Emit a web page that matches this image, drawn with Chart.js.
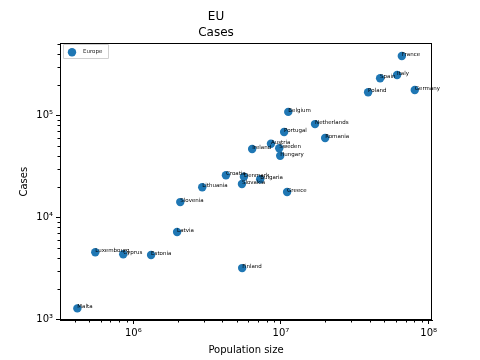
<!DOCTYPE html>
<html><head><meta charset="utf-8">
<script src="https://cdn.jsdelivr.net/npm/chart.js@4"></script>
<style>html,body{margin:0;padding:0;background:#fff}</style>
</head><body>
<canvas id="c" width="480" height="360"></canvas>
<script>
const titleLines = ['EU', 'Cases'];
const seriesName = 'Europe';
const xLabel = 'Population size';
const yLabel = 'Cases';
const countries = ['France','Italy','Spain','Germany','Poland','Belgium','Netherlands','Portugal','Romania','Austria','Ireland','Sweden','Hungary','Croatia','Denmark','Bulgaria','Slovakia','Greece','Lithuania','Slovenia','Latvia','Luxembourg','Cyprus','Estonia','Finland','Malta'];
const population = [6.58e7,6.11e7,4.69e7,8.05e7,3.89e7,1.12e7,1.70e7,1.05e7,1.99e7,8.55e6,6.38e6,9.73e6,9.88e6,4.24e6,5.61e6,7.23e6,5.44e6,1.10e7,2.93e6,2.08e6,1.98e6,5.53e5,8.55e5,1.32e6,5.46e6,4.18e5];
const cases = [3.81e5,2.48e5,2.31e5,1.77e5,1.68e5,1.08e5,8.2e4,6.86e4,5.99e4,5.27e4,4.68e4,4.75e4,4.02e4,2.58e4,2.5e4,2.36e4,2.12e4,1.77e4,1.97e4,1.41e4,7.18e3,4.54e3,4.34e3,4.27e3,3.18e3,1.28e3];
const xRange = [3.19e5, 1.053e8];
const yRange = [985, 5.08e5];

const FONT = 'DejaVu Sans';
const COLOR = '#1f77b4';
const SUP = {'0':'⁰','1':'¹','2':'²','3':'³','4':'⁴','5':'⁵','6':'⁶','7':'⁷','8':'⁸','9':'⁹','-':'⁻'};
function isPow10(v){ if(!(v>0)) return false; const l=Math.log10(v); return Math.abs(l-Math.round(l))<1e-9; }
function powLabel(v){ if(!isPow10(v)) return ''; const e=String(Math.round(Math.log10(v))); return '10'+e.split('').map(c=>SUP[c]).join(''); }

const pts = population.map((p,i)=>({x:p, y:cases[i]}));

const annotate = {
  id:'annotate',
  afterDatasetsDraw(chart){
    const ctx=chart.ctx; const meta=chart.getDatasetMeta(0);
    ctx.save(); ctx.font='5.5px "'+FONT+'"'; ctx.fillStyle='#000'; ctx.textAlign='left'; ctx.textBaseline='alphabetic';
    meta.data.forEach((el,i)=>{ ctx.fillText(countries[i], el.x, el.y); });
    ctx.restore();
  }
};
const frameAndTicks = {
  id:'frameAndTicks',
  afterDraw(chart){
    const ctx=chart.ctx, a=chart.chartArea;
    ctx.save();
    ctx.strokeStyle='#000'; ctx.lineWidth=1;
    ctx.strokeRect(Math.round(a.left)+0.5, Math.round(a.top)+0.5, Math.round(a.right-a.left)-1, Math.round(a.bottom-a.top)-1);
    // minor ticks
    ['x','y'].forEach(id=>{
      const s=chart.scales[id];
      const e0=Math.floor(Math.log10(s.min)), e1=Math.ceil(Math.log10(s.max));
      for(let e=e0;e<=e1;e++){ for(let k=2;k<=9;k++){ const v=k*Math.pow(10,e); if(v<s.min||v>s.max) continue; const p=Math.round(s.getPixelForValue(v))+0.5;
        ctx.beginPath();
        if(id==='x'){ ctx.moveTo(p, Math.round(a.bottom)); ctx.lineTo(p, Math.round(a.bottom)+2.5); }
        else { ctx.moveTo(Math.round(a.left), p); ctx.lineTo(Math.round(a.left)-2.5, p); }
        ctx.stroke(); } }
    });
    // legend
    const lx=a.left+3, ly=a.top+1;
    ctx.strokeStyle='#d0d0d0'; ctx.lineWidth=1;
    ctx.fillStyle='rgba(255,255,255,0.8)';
    ctx.beginPath(); ctx.rect(Math.round(lx)+0.5, Math.round(ly)+0.5, 45, 14); ctx.fill(); ctx.stroke();
    ctx.fillStyle=COLOR; ctx.beginPath(); ctx.arc(lx+9, ly+8, 4.2, 0, Math.PI*2); ctx.fill();
    ctx.fillStyle='#222'; ctx.font='5.5px "'+FONT+'"'; ctx.textBaseline='middle'; ctx.textAlign='left';
    ctx.fillText(chart.data.datasets[0].label, lx+20, ly+7.5);
    ctx.restore();
  }
};

new Chart(document.getElementById('c'), {
  type:'scatter',
  data:{ datasets:[{ label:seriesName, data:pts, backgroundColor:COLOR, borderColor:COLOR, pointRadius:4.2, pointHoverRadius:4.2, borderWidth:0 }] },
  options:{
    responsive:false, animation:false, devicePixelRatio:1,
    layout:{ padding:{ left:0, right:48, top:0, bottom:0 } },
    plugins:{
      legend:{ display:false },
      tooltip:{ enabled:false },
      title:{ display:true, text:titleLines, color:'#000', font:{ family:FONT, size:12, weight:'normal', lineHeight:1.333 }, padding:{ top:9, bottom:2.3 } }
    },
    scales:{
      x:{ type:'logarithmic', min:xRange[0], max:xRange[1],
        afterFit(s){ s.height=40; },
        border:{ display:true, color:'#000', width:1 },
        grid:{ drawOnChartArea:false, drawTicks:true, tickLength:4, tickColor:(c)=> (c.tick && isPow10(c.tick.value)) ? '#000' : 'rgba(0,0,0,0)' },
        ticks:{ autoSkip:false, maxRotation:0, color:'#000', padding:3, font:{ family:FONT, size:10 }, callback:(v)=>powLabel(v) },
        title:{ display:true, text:xLabel, color:'#000', font:{ family:FONT, size:10 }, padding:{ top:0, bottom:4 } }
      },
      y:{ type:'logarithmic', min:yRange[0], max:yRange[1],
        afterFit(s){ s.width=60; },
        border:{ display:true, color:'#000', width:1 },
        grid:{ drawOnChartArea:false, drawTicks:true, tickLength:4, tickColor:(c)=> (c.tick && isPow10(c.tick.value)) ? '#000' : 'rgba(0,0,0,0)' },
        ticks:{ autoSkip:false, color:'#000', padding:3, font:{ family:FONT, size:10 }, callback:(v)=>powLabel(v) },
        title:{ display:true, text:yLabel, color:'#000', font:{ family:FONT, size:10 }, padding:{ top:18, bottom:0 } }
      }
    }
  },
  plugins:[annotate, frameAndTicks]
});
</script>
</body></html>
